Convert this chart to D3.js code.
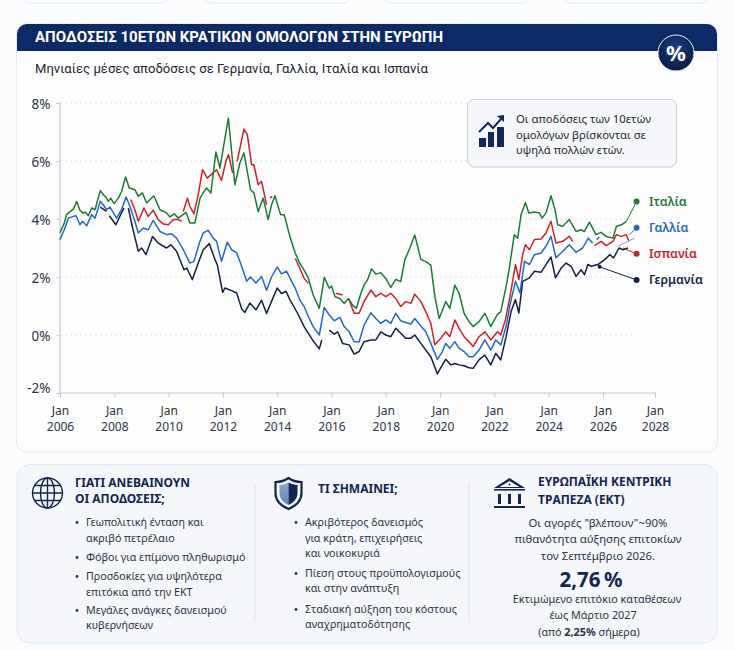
<!DOCTYPE html>
<html lang="el">
<head>
<meta charset="UTF-8">
<title>Αποδόσεις 10ετών κρατικών ομολόγων στην Ευρώπη</title>
<script src="https://d3js.org/d3.v7.min.js"></script>
<style>
  html, body { margin: 0; padding: 0; background: #fbfcfe; }
  svg { display: block; font-family: "Noto Sans", sans-serif; }
  .tick text { font-family: "Noto Sans", sans-serif; fill: #2b3444; }
</style>
</head>
<body>
<svg id="chart" width="735" height="650"></svg>
<script>
// months since Jan 2006, yield in %; null = the line breaks there
const italy = [[0,3.52],[1.9,3.86],[2.9,4.15],[4,4.23],[5.9,4.34],[7.4,4.6],[8.8,4.3],[10,4.21],[11.3,4.23],[12.5,4.11],[14,4.38],[15.5,4.32],[16.5,4.61],[17.8,4.98],[19.1,4.84],[20.2,4.76],[21.4,4.61],[22.4,4.72],[23.9,4.53],[25.8,4.72],[27.2,4.95],[29,5.45],[30.6,5.07],[33.1,5.01],[34.6,4.78],[36.4,4.9],[38.3,4.55],[41.5,4.8],[44.2,4.32],[47.1,4.21],[48.6,4.07],[50.5,4.18],[52.3,4.03],[55.7,4.23],[57.4,3.86],[59.6,3.86],[61.9,4.72],[63.3,4.9],[64.8,5.07],[66.7,4.9],[68.9,6.31],[70.7,5.76],[74.4,7.48],[77.3,5.18],[79.5,5.93],[81.3,6.28],[84.2,5.01],[85.7,4.9],[87.6,4.26],[89.8,4.72],[92,3.98],[93.5,4.49],[95,4.8],[97.5,4.15],[99.1,4.15],[101.6,3.4],[104,2.82],[106,2.47],[107.9,2.24],[109.8,1.95],[111.9,1.38],[114.6,0.92],[116.8,1.99],[119,1.61],[120,1.69],[121.6,1.32],[123.7,1.26],[125.6,1.09],[127.5,1.26],[129.3,1.03],[131,0.92],[133,1.44],[134.4,1.72],[135.9,1.9],[137.7,2.28],[139.6,2.1],[141.8,2.15],[144,1.95],[146.2,1.64],[148.4,1.92],[150.6,1.84],[152.4,2.59],[154.6,2.99],[156.8,3.45],[159.5,2.61],[161.7,2.53],[163.9,2.41],[165.7,1.32],[167.6,0.57],[170.5,1.15],[172.3,0.92],[174.5,1.72],[176.4,1.44],[178.6,0.75],[180.8,0.46],[182.6,0.29],[185.2,0.46],[187.8,0.75],[190.4,0.29],[193.4,0.72],[194.8,0.8],[197.2,1.68],[198.6,2.31],[200.8,3.46],[202.3,3.34],[203.8,4.15],[205.7,4.57],[207.2,4.21],[209.7,4.24],[211.9,4.21],[213.1,4.03],[214.8,4.21],[217,4.8],[218.8,4.32],[220,3.8],[222.2,3.75],[225.1,3.98],[228.1,3.57],[230.3,3.63],[231.8,3.57],[234,3.89],[236.9,3.46],[239.1,3.54],[241.5,3.4],[244.6,3.34],[246.2,3.75],[248.5,3.8],[250.8,3.92]];

const spain = [[31.2,4.67],[33.1,4.32],[34.6,3.92],[37.1,4.38],[39,4.09],[41.2,4.3],[43.4,3.98],[45.7,3.83],[47.9,3.8],[50.1,3.98],[52.3,3.98],[53.8,3.92],[54,null],[54.5,4.26],[56.3,4.72],[57.4,4.44],[59.2,4.18],[61.1,4.84],[63,5.7],[65.1,5.41],[67.7,5.59],[69.2,5.7],[71.4,5.33],[73.3,5.99],[74.5,6.22],[76.3,5.59],[77,null],[78.3,5.99],[81.3,7.1],[82.8,6.91],[84.7,5.87],[85.7,5.87],[87.6,5.18],[89.1,5.3],[91.3,4.49],[92,null],[92.8,4.72],[93.8,4.78],[95,null],[104,2.64],[106,2.3],[107.9,1.95],[109.8,1.78],[115,null],[121.9,1.44],[124.9,1.38],[126,null],[127.8,1.21],[130,0.75],[132.2,0.75],[134.4,1.15],[137.4,1.55],[139.6,1.32],[141.8,1.44],[144,1.32],[146.2,1.44],[148.4,1.26],[150.6,0.98],[152.8,1.15],[155.1,1.09],[156.8,1.41],[159.5,1.15],[161.7,0.8],[163.9,0.4],[165.7,-0.34],[168.3,-0.11],[170.5,0.11],[172.3,-0.06],[174.5,0.52],[176.4,0.23],[178.6,-0.06],[180.8,-0.23],[182.6,-0.4],[185.2,-0.06],[187.8,0.11],[190.4,-0.17],[193.4,0.11],[194.8,0],[196.9,0.53],[198.9,1.33],[201.3,2.43],[202.8,1.91],[204.5,2.77],[205.7,3.11],[207.5,2.94],[209.7,3.29],[212.6,3.31],[214.8,3.52],[217,3.92],[219.2,3.17],[222.2,3.23],[225.1,3.4],[226.6,3.23],[230,null],[236.2,3.08],[239.2,3.23],[241.5,3.08],[244.6,3.23],[246.2,3.46],[248.5,3.4],[250.8,3.46],[252,3.23]];

const france = [[0,3.29],[1.9,3.63],[3.7,4.03],[5.9,4.09],[7.1,4.11],[8.8,3.8],[10,3.92],[11.8,3.77],[14,4.15],[15.5,4.03],[17.8,4.61],[19.1,4.49],[20.6,4.32],[22.1,4.41],[25,4.03],[27.2,4.32],[29.2,4.76],[30.9,4.44],[33.1,3.92],[34.6,3.52],[36.8,3.69],[39,3.63],[41.2,3.95],[44.2,3.57],[47.1,3.46],[49.3,3.49],[51.5,3.34],[54.5,2.94],[57.4,2.48],[59.2,2.54],[61.6,3.17],[63.3,3.52],[65.5,3.61],[67.7,3.34],[69.2,3.23],[71.4,2.54],[73.9,3.2],[75.8,2.94],[78.1,2.83],[80.3,2.37],[82.5,1.85],[84.2,2],[86.6,1.79],[89.1,2.02],[91.3,1.54],[93.5,2],[96,2.34],[97.9,2.11],[100.1,2.2],[101.6,1.97],[104,1.61],[106,1.21],[107.9,0.98],[109.8,0.63],[111.9,0.29],[114.6,0],[116.8,0.95],[119,0.69],[121.2,0.49],[123.7,0.61],[125.6,0.29],[127.8,0.11],[130,-0.23],[132.2,-0.23],[134.4,0.34],[137.4,0.77],[139.6,0.57],[141.8,0.4],[144,0.52],[146.2,0.4],[148.4,0.75],[150.6,0.49],[152.8,0.43],[155.1,0.38],[156.8,0.57],[159.5,0.31],[161.7,0.11],[163.9,-0.29],[166.8,-0.84],[169,-0.57],[170.5,-0.29],[172.3,-0.46],[174.5,-0.23],[176.4,-0.46],[178.6,-0.57],[180.8,-0.75],[182.6,-0.75],[185.2,-0.52],[187.8,-0.17],[190.4,-0.52],[192.6,-0.17],[194.8,-0.34],[197.2,0.3],[198.9,1.05],[201.3,1.85],[203.3,1.45],[205.3,2.54],[207.5,2.43],[209.7,2.77],[212.6,2.83],[214.8,3.06],[217,3.4],[219.2,2.66],[222.2,2.89],[225.1,3.11],[228.1,2.85],[231,3],[233.5,3.34],[235.4,3.17],[236,null],[237.2,3.29],[238.4,3.38]];

const germany = [[17.8,4.41],[20.6,4.26],[21,null],[21.8,4.11],[24.7,3.8],[27.2,4.21],[28.3,4.38],[29,null],[30.2,4.38],[32.1,3.69],[34.6,2.89],[36.1,3],[38,2.77],[40.9,3.4],[43.4,3.17],[47.1,3],[49,3.11],[51.5,2.89],[54.8,2.25],[56,2.31],[58.5,1.91],[61.1,2.48],[63.3,2.94],[66,3.15],[68.5,2.6],[69.5,2.43],[71.9,1.47],[72.9,1.62],[75.8,1.53],[78.1,1.45],[80.3,0.9],[81.7,0.78],[83.9,1.1],[86.6,0.87],[89.1,1.2],[91.3,0.74],[93.5,1.16],[96,1.62],[97.9,1.43],[99.9,1.51],[101.6,1.22],[105,0.75],[107.9,0.29],[111.6,-0.17],[114.6,-0.48],[115.7,-0.17],[117,null],[119,0.17],[121.2,0.03],[122.7,0.11],[124.9,-0.29],[127.8,-0.34],[130,-0.66],[132.2,-0.57],[134.4,-0.23],[137.4,-0.17],[139.6,-0.17],[141.8,0.11],[144,0],[146.2,-0.06],[148.4,0.23],[150.6,0.06],[152.8,-0.11],[155.1,-0.11],[156.8,0],[159.5,-0.29],[161.7,-0.52],[163.9,-0.75],[166.8,-1.34],[169,-1.03],[170.5,-0.84],[172.7,-1.03],[174.5,-0.98],[176.4,-1.03],[178.6,-1.06],[180.8,-1.13],[182.6,-1.15],[185.2,-0.86],[187.8,-0.69],[190.4,-1.03],[192.6,-0.63],[194.8,-0.86],[197.2,-0.05],[199.4,0.82],[201.3,1.22],[202.8,0.76],[204.5,1.85],[207.5,1.97],[209.7,2.2],[212.6,2.16],[214.8,2.43],[217,2.69],[219,1.97],[221.5,2.31],[223.7,2.48],[225.9,2.37],[228.1,2.02],[230.3,2.25],[231.8,2.08],[233.3,2.43],[234.8,2.37],[237.7,2.43],[240.8,2.6],[243.1,2.77],[244.9,2.66],[247.4,3],[249.2,2.94],[251.5,3]];

const seriesNames = ["Γερμανία", "Γαλλία", "Ισπανία", "Ιταλία"];
const seriesData = [germany, france, spain, italy];
const seriesColors = ["#141f45", "#2468c4", "#c8232c", "#1c7a35"];
const leaderFrom = [[238.5,2.35], [252.3,3.46], [249.2,3], [250.8,3.92]];
const endMonth = 255.5;
const endValues = [1.9, 3.7, 2.8, 4.6];

const yTicks = [-2, 0, 2, 4, 6, 8];
const yearTicks = [2006, 2008, 2010, 2012, 2014, 2016, 2018, 2020, 2022, 2024, 2026, 2028];

const calloutLines = ["Οι αποδόσεις των 10ετών", "ομολόγων βρίσκονται σε", "υψηλά πολλών ετών."];
const whyTitle = ["ΓΙΑΤΙ ΑΝΕΒΑΙΝΟΥΝ", "ΟΙ ΑΠΟΔΟΣΕΙΣ;"];
const whyBullets = [["Γεωπολιτική ένταση και", "ακριβό πετρέλαιο"], ["Φόβοι για επίμονο πληθωρισμό"], ["Προσδοκίες για υψηλότερα", "επιτόκια από την ΕΚΤ"], ["Μεγάλες ανάγκες δανεισμού", "κυβερνήσεων"]];
const meansBullets = [["Ακριβότερος δανεισμός", "για κράτη, επιχειρήσεις", "και νοικοκυριά"], ["Πίεση στους προϋπολογισμούς", "και στην ανάπτυξη"], ["Σταδιακή αύξηση του κόστους", "αναχρηματοδότησης"]];
const navy = "#13264f";

const svg = d3.select("#chart");
const defs = svg.append("defs");
const badgeGrad = defs.append("radialGradient").attr("id", "badge").attr("cx", "50%").attr("cy", "35%").attr("r", "70%");
badgeGrad.append("stop").attr("offset", "0%").attr("stop-color", "#1c3f86");
badgeGrad.append("stop").attr("offset", "100%").attr("stop-color", "#07173f");
const shieldGrad = defs.append("linearGradient").attr("id", "shieldLeft").attr("x1", 0).attr("y1", 0).attr("x2", 0).attr("y2", 1);
shieldGrad.append("stop").attr("offset", "0%").attr("stop-color", "#8fa9d2");
shieldGrad.append("stop").attr("offset", "100%").attr("stop-color", "#5f83b8");

// bottoms of the cards cut off at the top of the page
[[21,169],[204,351],[382,531],[563,710]].forEach(c => {
  svg.append("rect").attr("x", c[0]).attr("y", -20).attr("width", c[1]-c[0]).attr("height", 23).attr("rx", 8)
    .attr("fill", "#fbfcfe").attr("stroke", "#e3e8f1");
});

// main card
svg.append("rect").attr("x", 16.5).attr("y", 24).attr("width", 701).attr("height", 428).attr("rx", 10)
  .attr("fill", "#fdfdfe").attr("stroke", "#e6e9f0");
svg.append("path").attr("d", "M17,51 V34 a10,10 0 0 1 10,-10 H707 a10,10 0 0 1 10,10 V51 Z").attr("fill", "#0b2a66");
svg.append("text").attr("x", 35).attr("y", 42).attr("fill", "#fff")
  .attr("font-family", "'Liberation Sans Narrow', Roboto, sans-serif").attr("font-weight", 700).attr("font-size", 15.5)
  .attr("textLength", 408).attr("lengthAdjust", "spacingAndGlyphs")
  .text("ΑΠΟΔΟΣΕΙΣ 10ΕΤΩΝ ΚΡΑΤΙΚΩΝ ΟΜΟΛΟΓΩΝ ΣΤΗΝ ΕΥΡΩΠΗ");
svg.append("circle").attr("cx", 676).attr("cy", 53).attr("r", 18).attr("fill", "url(#badge)").attr("stroke", "#e9edf5").attr("stroke-width", 1);
svg.append("text").attr("x", 676).attr("y", 61).attr("text-anchor", "middle").attr("fill", "#fff")
  .attr("font-weight", 700).attr("font-size", 22).text("%");
svg.append("text").attr("x", 35).attr("y", 73).attr("fill", "#1e2633")
  .attr("font-family", "Roboto, sans-serif").attr("font-size", 13.4)
  .attr("textLength", 393).attr("lengthAdjust", "spacingAndGlyphs")
  .text("Μηνιαίες μέσες αποδόσεις σε Γερμανία, Γαλλία, Ιταλία και Ισπανία");

// scales
const x = d3.scaleLinear().domain([0, 240, 264]).range([60, 603, 655]);
const y = d3.scaleLinear().domain([-2, 8]).range([393, 103]);

// grid
svg.append("g").selectAll("line").data(yTicks.filter(d => d > -2)).join("line")
  .attr("x1", 60).attr("x2", 635).attr("y1", d => y(d)).attr("y2", d => y(d))
  .attr("stroke", "#d3d8e0").attr("stroke-width", 0.8).attr("stroke-dasharray", "2,3");

// axes
const yAxis = svg.append("g").attr("transform", "translate(59.5,0)")
  .call(d3.axisLeft(y).tickValues(yTicks).tickSize(3).tickPadding(6).tickFormat(d => d + "%"));
yAxis.select(".domain").attr("stroke", "#c3c9d4").attr("stroke-width", 1.2);
yAxis.selectAll("line").attr("stroke", "#c3c9d4");
yAxis.selectAll("text").attr("font-size", 13.5).attr("dy", d => d === -2 ? "-0.05em" : "0.38em");

const xAxis = svg.append("g").attr("transform", "translate(0,392.5)")
  .call(d3.axisBottom(x).tickValues(yearTicks.map(v => (v - 2006) * 12)).tickSize(5).tickSizeOuter(0).tickFormat(""));
xAxis.select(".domain").attr("stroke", "#c3c9d4").attr("stroke-width", 1.2);
xAxis.selectAll("line").attr("stroke", "#c3c9d4");
xAxis.selectAll(".tick").each(function(d) {
  const t = d3.select(this).select("text").attr("font-size", 12).attr("y", 0).attr("dy", null);
  t.append("tspan").attr("x", 0).attr("y", 22).text("Jan");
  t.append("tspan").attr("x", 0).attr("y", 38).text(2006 + d / 12);
});

// series, Germany underneath and Italy on top
const line = d3.line().defined(d => d[1] !== null).x(d => x(d[0])).y(d => y(d[1]));
svg.append("g").selectAll("path").data(seriesData).join("path")
  .attr("d", line).attr("fill", "none")
  .attr("stroke", (d, i) => seriesColors[i]).attr("stroke-width", 1.5).attr("stroke-linejoin", "round");

// thin trailing line of France near the end
svg.append("line").attr("x1", x(246.9)).attr("y1", y(3.06)).attr("x2", x(254.6)).attr("y2", y(3.34))
  .attr("stroke", "#8ea3c4").attr("stroke-width", 1);

// leaders, end dots, labels
seriesNames.forEach((name, i) => {
  const c = seriesColors[i];
  svg.append("line").attr("x1", x(leaderFrom[i][0])).attr("y1", y(leaderFrom[i][1]))
    .attr("x2", x(endMonth)).attr("y2", y(endValues[i])).attr("stroke", c).attr("stroke-width", 1);
  svg.append("circle").attr("cx", x(endMonth)).attr("cy", y(endValues[i])).attr("r", 3).attr("fill", c);
  svg.append("text").attr("x", 649).attr("y", y(endValues[i]) + 4.5).attr("fill", c)
    .attr("font-weight", 600).attr("font-size", 12.3).text(name);
});
svg.append("circle").attr("cx", x(leaderFrom[0][0])).attr("cy", y(leaderFrom[0][1])).attr("r", 2).attr("fill", seriesColors[0]);

// callout
svg.append("rect").attr("x", 467.5).attr("y", 99.5).attr("width", 209).attr("height", 67.5).attr("rx", 7)
  .attr("fill", "#f6f7fb").attr("stroke", "#c6ccd8");
const trend = svg.append("g").attr("fill", "#13285a");
[[479,138,7,9],[488,132,6,15],[497,127,7,20]].forEach(b => {
  trend.append("rect").attr("x", b[0]).attr("y", b[1]).attr("width", b[2]).attr("height", b[3]);
});
trend.append("path").attr("d", "M479,132 L488,123 L493,128 L502,118").attr("fill", "none").attr("stroke", "#13285a").attr("stroke-width", 2);
trend.append("path").attr("d", "M497,116 L504,115 L504,122 Z");
svg.append("g").selectAll("text").data(calloutLines).join("text")
  .attr("x", 516).attr("y", (d, i) => 123 + i * 15.5).attr("fill", "#1e2633").attr("font-size", 11.3).text(d => d);

// bottom card
svg.append("rect").attr("x", 17).attr("y", 464.5).attr("width", 700).attr("height", 178.5).attr("rx", 13)
  .attr("fill", "#f5f7fb").attr("stroke", "#e3e7ef");
[255, 469].forEach(px => {
  svg.append("line").attr("x1", px).attr("x2", px).attr("y1", 483).attr("y2", 622).attr("stroke", "#dfe3ea");
});

function heading(lines, px, ys) {
  lines.forEach((s, i) => {
    svg.append("text").attr("x", px).attr("y", ys[i]).attr("fill", navy).attr("font-weight", 700).attr("font-size", 12).text(s);
  });
}
function bullets(groups, textX, ys) {
  let k = 0;
  groups.forEach(g => {
    svg.append("circle").attr("cx", textX - 9).attr("cy", ys[k] - 3.5).attr("r", 1.4).attr("fill", "#2b3444");
    g.forEach(s => {
      svg.append("text").attr("x", textX).attr("y", ys[k]).attr("fill", "#2b3444").attr("font-size", 10.7).text(s);
      k++;
    });
  });
}
heading(whyTitle, 75, [487, 503]);
bullets(whyBullets, 86, [526, 542, 561, 580, 596, 614, 629]);
heading(["ΤΙ ΣΗΜΑΙΝΕΙ;"], 318, [493]);
bullets(meansBullets, 305, [526, 542, 557, 577, 592, 613, 628]);
heading(["ΕΥΡΩΠΑΪΚΗ ΚΕΝΤΡΙΚΗ", "ΤΡΑΠΕΖΑ (ΕΚΤ)"], 538, [486, 504]);

// ECB column
[["Οι αγορές \"βλέπουν\"~90%", 598, 527, 11.4], ["πιθανότητα αύξησης επιτοκίων", 598, 543, 11.4], ["τον Σεπτέμβριο 2026.", 598, 560, 11.4], ["Εκτιμώμενο επιτόκιο καταθέσεων", 597, 603, 10.8], ["έως Μάρτιο 2027", 593, 619, 10.8]].forEach(d => {
  svg.append("text").attr("x", d[1]).attr("y", d[2]).attr("text-anchor", "middle").attr("fill", "#2b3444").attr("font-size", d[3]).text(d[0]);
});
svg.append("text").attr("x", 591).attr("y", 587).attr("text-anchor", "middle").attr("fill", navy)
  .attr("font-weight", 700).attr("font-size", 20.5).text("2,76\u2009%");
const since = svg.append("text").attr("x", 589).attr("y", 636).attr("text-anchor", "middle").attr("fill", "#2b3444").attr("font-size", 10.8);
since.append("tspan").text("(από ");
since.append("tspan").attr("font-weight", 700).text("2,25%");
since.append("tspan").text(" σήμερα)");

// globe icon
const globe = svg.append("g").attr("transform", "translate(47.5,493)").attr("fill", "none").attr("stroke", navy).attr("stroke-width", 1.4);
globe.append("circle").attr("r", 15);
globe.append("ellipse").attr("rx", 7).attr("ry", 15);
globe.append("path").attr("d", "M0,-15 V15 M-15,0 H15 M-13,-7.5 H13 M-13,7.5 H13");

// shield icon
const shield = svg.append("g").attr("transform", "translate(288.5,493)");
shield.append("path").attr("d", "M0,-15 C-4,-12 -9,-11 -13,-11 V0 C-13,8 -7,13 0,16 C7,13 13,8 13,0 V-11 C9,-11 4,-12 0,-15 Z")
  .attr("fill", "none").attr("stroke", navy).attr("stroke-width", 2.2);
shield.append("path").attr("d", "M0,-10.5 C-3,-9 -6,-8 -9,-8 V0 C-9,6 -5,9.5 0,12 Z").attr("fill", "url(#shieldLeft)");
shield.append("path").attr("d", "M0,-10.5 C3,-9 6,-8 9,-8 V0 C9,6 5,9.5 0,12 Z").attr("fill", "#0f2558");

// bank icon
const bank = svg.append("g").attr("fill", navy);
bank.append("path").attr("d", "M509.5,478 L525,488 H494 Z M509.5,481 L499.5,487 H519.5 Z").attr("fill-rule", "evenodd");
bank.append("circle").attr("cx", 509.5).attr("cy", 484.5).attr("r", 1);
bank.append("rect").attr("x", 494).attr("y", 489).attr("width", 31).attr("height", 1.6);
[498, 508, 518].forEach(px => bank.append("rect").attr("x", px).attr("y", 494).attr("width", 3).attr("height", 10));
bank.append("rect").attr("x", 494).attr("y", 506).attr("width", 31).attr("height", 2);
</script>
</body>
</html>
